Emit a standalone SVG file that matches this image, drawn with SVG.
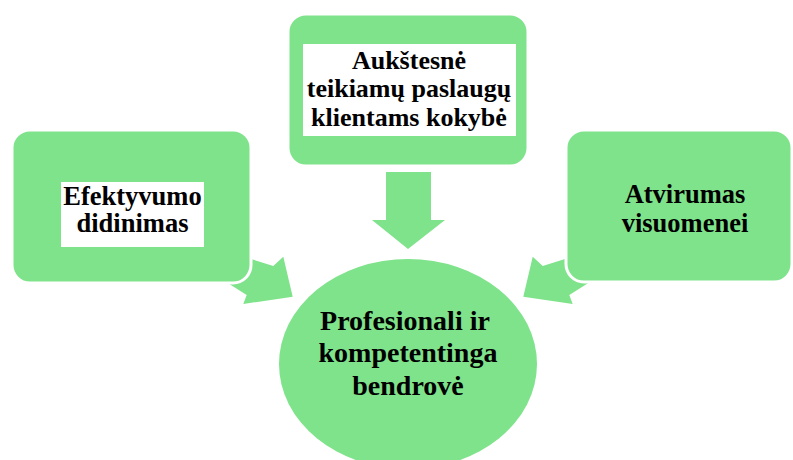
<svg xmlns="http://www.w3.org/2000/svg" width="793" height="460" viewBox="0 0 793 460">
<style>
.g{fill:#7EE38A}
.box{fill:#7EE38A;stroke:#fff;stroke-width:3}
.t{font-family:"Liberation Serif","Times New Roman",serif;font-weight:bold;fill:#000;text-anchor:middle}
</style>
<rect width="793" height="460" fill="#fff"/>
<g id="connectors">
<polygon class="g" points="200,243 273.3,266 283.3,256.7 292.7,296.7 243.3,304 246.7,295 215,275"/>
<polygon class="g" points="616,243 542.7,266 532.7,256.7 523.3,296.7 572.7,304 569.3,295 601,275"/>
<polygon class="g" points="386,172 431,172 431,220 445,220 408,249 372,220 386,220"/>
</g>
<g id="node-top">
<rect class="box" x="288" y="14" width="240" height="152" rx="18"/>
<rect x="303" y="44" width="213" height="92" fill="#fff"/>
<text class="t" style="font-size:26px" x="409" y="69">Aukštesnė</text>
<text class="t" style="font-size:26px" x="409" y="97">teikiamų paslaugų</text>
<text class="t" style="font-size:26px" x="409" y="126">klientams kokybė</text>
</g>
<g id="node-left">
<rect class="box" x="12" y="130" width="239" height="153" rx="18"/>
<rect x="61" y="182" width="143" height="65" fill="#fff"/>
<text class="t" style="font-size:26.5px" x="132.5" y="205">Efektyvumo</text>
<text class="t" style="font-size:26.5px" x="132.5" y="232">didinimas</text>
</g>
<g id="node-right">
<rect class="box" x="566" y="130" width="226" height="152" rx="18"/>
<text class="t" style="font-size:26.5px" x="685" y="203">Atvirumas</text>
<text class="t" style="font-size:26.5px" x="685" y="232">visuomenei</text>
</g>
<g id="node-center">
<ellipse class="g" cx="408" cy="364" rx="129" ry="105"/>
<text class="t" style="font-size:28px" x="405" y="330">Profesionali ir</text>
<text class="t" style="font-size:28px" x="408" y="362">kompetentinga</text>
<text class="t" style="font-size:28px" x="408" y="395">bendrovė</text>
</g>
</svg>
